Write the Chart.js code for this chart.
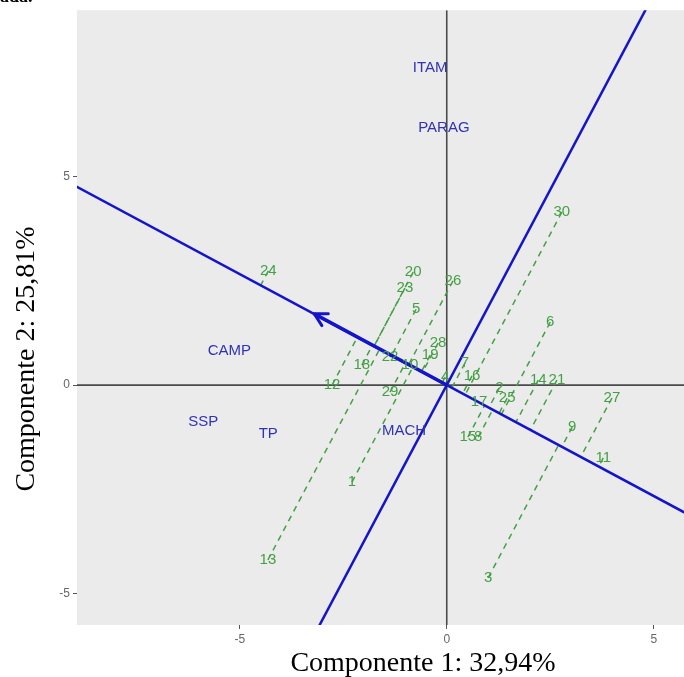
<!DOCTYPE html>
<html>
<head>
<meta charset="utf-8">
<script src="https://cdn.jsdelivr.net/npm/chart.js@4.4.1/dist/chart.umd.min.js"></script>
<style>
  html, body { margin: 0; padding: 0; background: #fff; }
  #wrap { position: relative; width: 684px; height: 677px; overflow: hidden; }
  #frag { position: absolute; left: 0; top: -14px; font: bold 18px "Liberation Serif", serif; color: #000; }
</style>
</head>
<body>
<div id="wrap">
  <canvas id="biplot" width="684" height="677"></canvas>
  <div id="frag">ada.</div>
</div>
<script>
// genotypes (green)
const genotypes = ['1','2','3','4','5','6','7','8','9','10','11','12','13','14','15','16','17','18','19','20','21','22','23','24','25','26','27','28','29','30'];
const genoX = [-2.29, 1.27, 1.00, -0.04, -0.74, 2.50, 0.44, 0.76, 3.03, -0.89, 3.78, -2.77, -4.32, 2.21, 0.51, 0.61, 0.78, -2.05, -0.40, -0.81, 2.66, -1.37, -1.01, -4.31, 1.46, 0.15, 3.99, -0.21, -1.37, 2.78];
const genoY = [-2.33, -0.07, -4.63, 0.19, 1.82, 1.51, 0.53, -1.25, -1.01, 0.48, -1.75, 0.00, -4.20, 0.12, -1.25, 0.22, -0.41, 0.48, 0.72, 2.71, 0.12, 0.67, 2.33, 2.74, -0.31, 2.50, -0.31, 1.01, -0.17, 4.15];

// environments (blue)
const environments = ['ITAM', 'PARAG', 'CAMP', 'SSP', 'TP', 'MACH'];
const envX = [-0.40, -0.07, -5.25, -5.88, -4.31, -1.03];
const envY = [7.61, 6.17, 0.82, -0.89, -1.18, -1.10];

// average environment axis
const aecSlope = -0.533;
const aecArrowEnd = { x: -3.2, y: 1.71 };

const xRange = [-8.93, 5.73];
const yRange = [-5.76, 9.0];
const xTicks = [-5, 0, 5];
const yTicks = [-5, 0, 5];

const GREEN = '#45a045';
const BLUE_TXT = '#3232b8';
const BLUE_LINE = '#1414c8';

// perpendicular foot of a point on the abscissa
function project(x, y) {
  const k = (x + aecSlope * y) / (1 + aecSlope * aecSlope);
  return { x: k, y: k * aecSlope };
}

const datasets = [];

// abscissa line (through origin) and ordinate (perpendicular)
datasets.push({
  type: 'line', data: [{ x: -12, y: -12 * aecSlope }, { x: 12, y: 12 * aecSlope }],
  borderColor: BLUE_LINE, borderWidth: 2.5, pointRadius: 0, order: 1
});
datasets.push({
  type: 'line', data: [{ x: 12 * aecSlope, y: -12 }, { x: -12 * aecSlope, y: 12 }],
  borderColor: BLUE_LINE, borderWidth: 2.5, pointRadius: 0, order: 1
});
datasets.push({
  type: 'line', data: [{ x: 0, y: 0 }, aecArrowEnd],
  borderColor: BLUE_LINE, borderWidth: 3.5, pointRadius: 0, order: 0
});

// dashed projections
genotypes.forEach((g, i) => {
  const p = project(genoX[i], genoY[i]);
  datasets.push({
    type: 'line', data: [{ x: genoX[i], y: genoY[i] }, p],
    borderColor: GREEN, borderWidth: 1.5, borderDash: [6, 5], pointRadius: 0, order: 2
  });
});

// zero lines
datasets.push({
  type: 'line', data: [{ x: xRange[0], y: 0 }, { x: xRange[1], y: 0 }],
  borderColor: '#4a4a4a', borderWidth: 1.6, pointRadius: 0, order: 3
});
datasets.push({
  type: 'line', data: [{ x: 0, y: yRange[0] }, { x: 0, y: yRange[1] }],
  borderColor: '#4a4a4a', borderWidth: 1.6, pointRadius: 0, order: 3
});

const panelBg = {
  id: 'panelBg',
  beforeDraw(chart) {
    const { ctx, chartArea: a } = chart;
    ctx.save();
    ctx.fillStyle = '#ebebeb';
    ctx.fillRect(a.left, a.top, a.right - a.left, a.bottom - a.top);
    ctx.restore();
  }
};

const labelsAndArrow = {
  id: 'labelsAndArrow',
  afterDatasetsDraw(chart) {
    const { ctx, scales: { x, y } } = chart;
    ctx.save();
    // arrow head
    const x0 = x.getPixelForValue(0), y0 = y.getPixelForValue(0);
    const x1 = x.getPixelForValue(aecArrowEnd.x), y1 = y.getPixelForValue(aecArrowEnd.y);
    const ang = Math.atan2(y1 - y0, x1 - x0);
    ctx.strokeStyle = BLUE_LINE;
    ctx.lineWidth = 3;
    ctx.lineCap = 'round';
    ctx.beginPath();
    ctx.moveTo(x1 - 14 * Math.cos(ang - 0.5), y1 - 14 * Math.sin(ang - 0.5));
    ctx.lineTo(x1, y1);
    ctx.lineTo(x1 - 14 * Math.cos(ang + 0.5), y1 - 14 * Math.sin(ang + 0.5));
    ctx.stroke();

    ctx.font = '15px "Liberation Sans", Arial, sans-serif';
    ctx.textAlign = 'center';
    ctx.textBaseline = 'middle';
    ctx.fillStyle = GREEN;
    genotypes.forEach((g, i) => {
      ctx.fillText(g, x.getPixelForValue(genoX[i]), y.getPixelForValue(genoY[i]));
    });
    ctx.fillStyle = BLUE_TXT;
    environments.forEach((e, i) => {
      ctx.fillText(e, x.getPixelForValue(envX[i]), y.getPixelForValue(envY[i]));
    });
    ctx.restore();
  },
  afterDraw(chart) {
    const ctx = chart.ctx;
    ctx.save();
    ctx.fillStyle = '#000';
    ctx.font = '28px "Liberation Serif", "Times New Roman", serif';
    ctx.textAlign = 'center';
    ctx.textBaseline = 'alphabetic';
    ctx.fillText('Componente 1: 32,94%', 423, 671);
    ctx.translate(34, 359);
    ctx.rotate(-Math.PI / 2);
    ctx.fillText('Componente 2: 25,81%', 0, 0);
    ctx.restore();
  }
};

new Chart(document.getElementById('biplot').getContext('2d'), {
  type: 'scatter',
  data: { datasets: datasets },
  options: {
    responsive: false,
    animation: false,
    events: [],
    layout: { padding: { top: 10, right: 0, left: 0, bottom: 0 } },
    plugins: { legend: { display: false }, tooltip: { enabled: false } },
    scales: {
      x: {
        type: 'linear', min: xRange[0], max: xRange[1],
        afterBuildTicks: axis => { axis.ticks = xTicks.map(v => ({ value: v })); },
        afterFit: axis => { axis.height = 52; },
        border: { display: false },
        grid: { drawOnChartArea: false, drawTicks: true, tickLength: 4, color: '#555', lineWidth: 1 },
        ticks: { padding: 3, color: '#666', font: { family: 'Liberation Sans', size: 12 }, maxRotation: 0 }
      },
      y: {
        type: 'linear', min: yRange[0], max: yRange[1],
        afterBuildTicks: axis => { axis.ticks = yTicks.map(v => ({ value: v })); },
        afterFit: axis => { axis.width = 77; },
        border: { display: false },
        grid: { drawOnChartArea: false, drawTicks: true, tickLength: 4, color: '#555', lineWidth: 1 },
        ticks: { padding: 3, color: '#666', font: { family: 'Liberation Sans', size: 12 } }
      }
    }
  },
  plugins: [panelBg, labelsAndArrow]
});
</script>
</body>
</html>
